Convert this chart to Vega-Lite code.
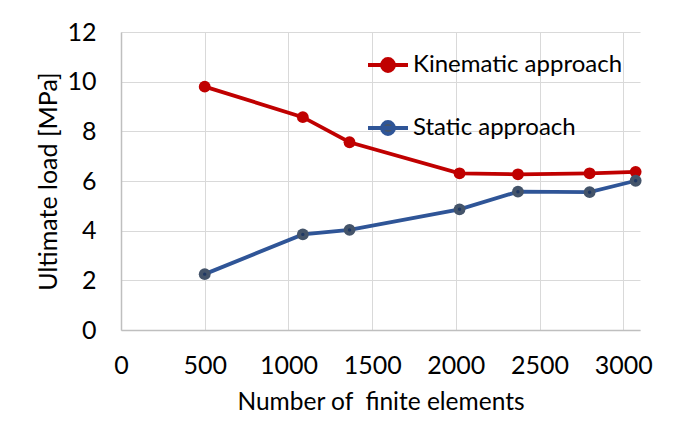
{
  "$schema": "https://vega.github.io/schema/vega-lite/v6.json",
  "autosize": "none",
  "width": 519,
  "height": 298,
  "padding": {"left": 121, "top": 32, "right": 40, "bottom": 106},
  "background": "white",
  "config": {
    "view": {"stroke": null},
    "font": "Lato"
  },
  "data": {
    "values": [
      {"n": 500, "load": 9.8, "series": "Kinematic approach"},
      {"n": 1086, "load": 8.57, "series": "Kinematic approach"},
      {"n": 1365, "load": 7.56, "series": "Kinematic approach"},
      {"n": 2022, "load": 6.31, "series": "Kinematic approach"},
      {"n": 2371, "load": 6.27, "series": "Kinematic approach"},
      {"n": 2799, "load": 6.31, "series": "Kinematic approach"},
      {"n": 3074, "load": 6.37, "series": "Kinematic approach"},
      {"n": 500, "load": 2.25, "series": "Static approach"},
      {"n": 1086, "load": 3.85, "series": "Static approach"},
      {"n": 1365, "load": 4.03, "series": "Static approach"},
      {"n": 2022, "load": 4.86, "series": "Static approach"},
      {"n": 2371, "load": 5.57, "series": "Static approach"},
      {"n": 2799, "load": 5.55, "series": "Static approach"},
      {"n": 3074, "load": 6.01, "series": "Static approach"}
    ]
  },
  "encoding": {
    "x": {
      "field": "n", "type": "quantitative",
      "scale": {"domain": [0, 3100], "nice": false},
      "axis": {
        "title": "Number of \u00a0finite elements",
        "values": [0, 500, 1000, 1500, 2000, 2500, 3000],
        "format": "d",
        "grid": true, "gridColor": "#D9D9D9", "gridWidth": 1,
        "domainColor": "#BFBFBF", "domainWidth": 1.5,
        "ticks": false, "labelPadding": 23,
        "labelFontSize": 25, "labelColor": "#000000", "labelFont": "Lato",
        "labelFlush": false,
        "titleFontSize": 24.5, "titleFontWeight": "normal", "titleColor": "#000000",
        "titleFont": "Lato", "titlePadding": 12
      }
    },
    "y": {
      "field": "load", "type": "quantitative",
      "scale": {"domain": [0, 12], "nice": false},
      "axis": {
        "title": "Ultimate load [MPa]",
        "values": [0, 2, 4, 6, 8, 10, 12],
        "grid": true, "gridColor": "#D9D9D9", "gridWidth": 1,
        "domainColor": "#BFBFBF", "domainWidth": 1.5,
        "ticks": false, "labelPadding": 25,
        "labelFontSize": 25, "labelColor": "#000000", "labelFont": "Lato",
        "titleFontSize": 25, "titleFontWeight": "normal", "titleColor": "#000000",
        "titleFont": "Lato", "titlePadding": 5
      }
    }
  },
  "layer": [
    {
      "mark": {"type": "line", "strokeWidth": 3.8},
      "encoding": {
        "stroke": {
          "field": "series", "type": "nominal",
          "scale": {"domain": ["Kinematic approach", "Static approach"], "range": ["#C00000", "#2F5597"]},
          "legend": {
            "title": null,
            "orient": "none",
            "legendX": 245,
            "legendY": 11,
            "symbolType": "M-1,0L1,0M-0.3,0A0.3,0.3 0 1,1 0.3,0A0.3,0.3 0 1,1 -0.3,0Z",
            "symbolSize": 1600,
            "symbolStrokeWidth": 3.8,
            "rowPadding": 27,
            "labelOffset": 3,
            "labelFontSize": 24,
            "labelFont": "Lato",
            "labelColor": "#000000",
            "labelLimit": 400,
            "encode": {
              "symbols": {"update": {"fill": {"scale": "fill", "field": "value"}, "fillOpacity": {"value": 1}}}
            }
          }
        }
      }
    },
    {
      "mark": {"type": "point", "filled": true, "size": 140, "opacity": 1},
      "encoding": {
        "fill": {
          "field": "series", "type": "nominal",
          "scale": {"domain": ["Kinematic approach", "Static approach"], "range": ["#C00000", "#44546A"]},
          "legend": null
        }
      }
    },
    {
      "transform": [{"filter": "datum.series === 'Static approach'"}],
      "mark": {"type": "point", "filled": true, "size": 12, "opacity": 1, "color": "#1F3864"}
    }
  ]
}
